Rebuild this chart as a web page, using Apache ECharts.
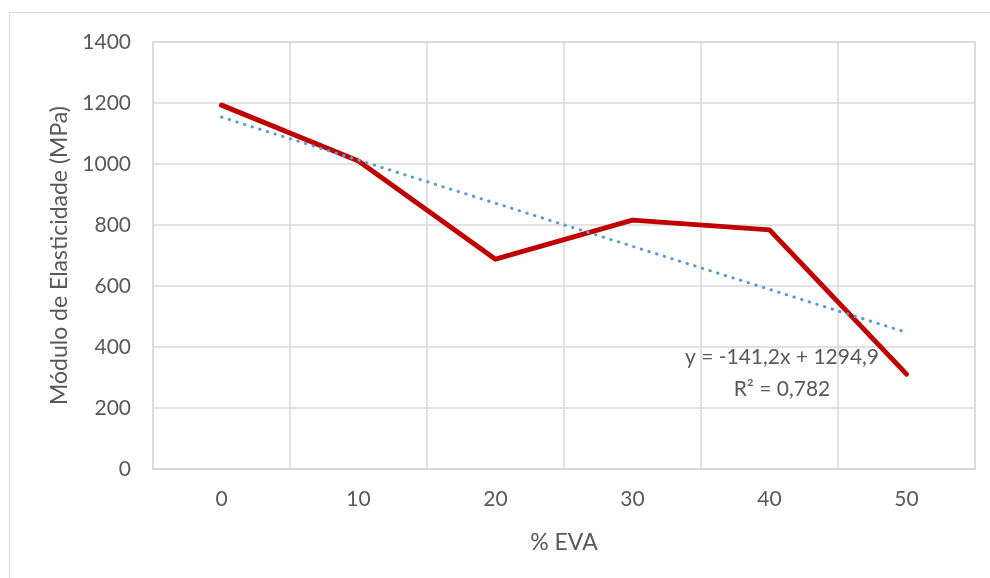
<!DOCTYPE html>
<html><head><meta charset="utf-8">
<script src="https://cdn.jsdelivr.net/npm/echarts@6/dist/echarts.min.js"></script>
<style>html,body{margin:0;padding:0;background:#fff}#c{width:990px;height:578px}</style>
</head><body><div id="c"></div>
<script>
const categories = ['0','10','20','30','40','50'];
const moduloValues = [1193, 1010, 688, 816, 784, 311];
const trendValues = [1153.7, 1012.5, 871.3, 730.1, 588.9, 447.7];
const yTicks = [0, 200, 400, 600, 800, 1000, 1200, 1400];
const trendLabel = ['y = -141,2x + 1294,9', 'R² = 0,782'];

const FONT = 'Lato, "Open Sans", sans-serif';
const chart = echarts.init(document.getElementById('c'), null, {renderer:'canvas'});
chart.setOption({
  animation:false,
  backgroundColor:'#fff',
  graphic:[
    {type:'rect', shape:{x:9.5,y:12.5,width:1000,height:600}, style:{fill:'none',stroke:'#d9d9d9',lineWidth:1}},
    {type:'text', x:782, y:357, style:{text:trendLabel[0], font:'21px '+FONT, fill:'#595959', textAlign:'center', textVerticalAlign:'middle'}},
    {type:'text', x:782, y:389, style:{text:trendLabel[1], font:'21px '+FONT, fill:'#595959', textAlign:'center', textVerticalAlign:'middle'}}
  ],
  grid:{left:153, top:42, width:822, height:427, show:true, borderColor:'#d9d9d9', borderWidth:1.5},
  xAxis:{
    type:'category', data:categories, boundaryGap:true,
    name:'% EVA', nameLocation:'middle', nameGap:62,
    nameTextStyle:{fontFamily:FONT, fontSize:23, color:'#595959'},
    axisLine:{show:true, lineStyle:{color:'#d9d9d9', width:1.5}},
    axisTick:{show:false},
    axisLabel:{fontFamily:FONT, fontSize:21, color:'#595959', margin:20},
    splitLine:{show:true, lineStyle:{color:'#d9d9d9', width:1.5}}
  },
  yAxis:{
    type:'value', min:yTicks[0], max:yTicks[yTicks.length-1], interval:200,
    name:'Módulo de Elasticidade (MPa)', nameLocation:'middle', nameGap:80,
    nameTextStyle:{fontFamily:FONT, fontSize:23, color:'#595959'},
    axisLine:{show:false}, axisTick:{show:false},
    axisLabel:{fontFamily:FONT, fontSize:21, color:'#595959', margin:22, formatter:v=>String(v)},
    splitLine:{show:true, lineStyle:{color:'#d9d9d9', width:1.5}}
  },
  series:[
    {type:'line', data:moduloValues, symbol:'none', z:3,
     lineStyle:{color:'#C00000', width:5, cap:'round', join:'round'}},
    {type:'line', data:trendValues, symbol:'none', z:4,
     lineStyle:{color:'#5B9BD5', width:3, type:[0.5,7.5], cap:'round'}}
  ]
});
</script></body></html>
